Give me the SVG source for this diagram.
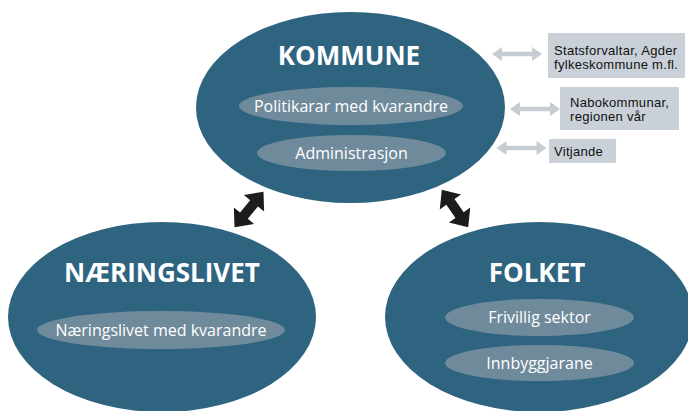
<svg xmlns="http://www.w3.org/2000/svg" width="688" height="411" viewBox="0 0 688 411">
<style>
.big{fill:#2e6480}
.inner{fill:#6f8a9b}
.title{font-family:"Open Sans","Liberation Sans",sans-serif;font-weight:bold;font-size:26px;fill:#fff;text-anchor:middle}
.lab{font-family:"Open Sans","Liberation Sans",sans-serif;font-size:16px;fill:#fff;text-anchor:middle}
.box{fill:#c9d0d7}
.btxt{font-family:"Liberation Sans",Arial,sans-serif;font-size:13px;letter-spacing:0.3px;fill:#111}
.garrow{fill:#c5ccd3}
.karrow{fill:#1c1c1c}
</style>
<defs>
<path id="ga" d="M-25,0 L-15,-7 L-15,-2.2 L15,-2.2 L15,-7 L25,0 L15,7 L15,2.2 L-15,2.2 L-15,7 Z"/>
<path id="ka" d="M-23,0 L-8,-13 L-8,-5 L8,-5 L8,-13 L23,0 L8,13 L8,5 L-8,5 L-8,13 Z"/>
</defs>
<g id="kommune">
<ellipse class="big" cx="350.5" cy="107.5" rx="154.5" ry="95.5"/>
<text class="title" x="349" y="65">KOMMUNE</text>
<ellipse class="inner" cx="351" cy="106" rx="112" ry="19"/>
<text class="lab" x="351" y="111.5">Politikarar med kvarandre</text>
<ellipse class="inner" cx="351.5" cy="153" rx="94.5" ry="18"/>
<text class="lab" x="351.5" y="158.5">Administrasjon</text>
</g>
<g id="naeringslivet">
<ellipse class="big" cx="162" cy="317" rx="154" ry="95"/>
<text class="title" x="162" y="282">NÆRINGSLIVET</text>
<ellipse class="inner" cx="161" cy="330" rx="124" ry="19"/>
<text class="lab" x="161" y="335.5">Næringslivet med kvarandre</text>
</g>
<g id="folket">
<ellipse class="big" cx="539" cy="317" rx="154" ry="95"/>
<text class="title" x="537" y="282">FOLKET</text>
<ellipse class="inner" cx="539.5" cy="317.5" rx="94.5" ry="18.5"/>
<text class="lab" x="539.5" y="323">Frivillig sektor</text>
<ellipse class="inner" cx="539.5" cy="363" rx="94.5" ry="18"/>
<text class="lab" x="539.5" y="368.5">Innbyggjarane</text>
</g>
<g id="statsforvaltar">
<rect class="box" x="548" y="33" width="137" height="45"/>
<text class="btxt" x="554" y="54.5">Statsforvaltar, Agder</text>
<text class="btxt" x="554" y="69.2">fylkeskommune m.fl.</text>
</g>
<g id="nabokommunar">
<rect class="box" x="560" y="87" width="119" height="43"/>
<text class="btxt" x="570" y="106.5">Nabokommunar,</text>
<text class="btxt" x="570" y="121.2">regionen vår</text>
</g>
<g id="vitjande">
<rect class="box" x="549" y="139" width="67" height="24"/>
<text class="btxt" x="554" y="155.5">Vitjande</text>
</g>
<g id="connectors">
<use href="#ga" class="garrow" transform="translate(517,54)"/>
<use href="#ga" class="garrow" transform="translate(535,109)"/>
<use href="#ga" class="garrow" transform="translate(521.5,148)"/>
<use href="#ka" class="karrow" transform="translate(249,209.5) rotate(-51)"/>
<use href="#ka" class="karrow" transform="translate(455,208.5) rotate(55)"/>
</g>
</svg>
